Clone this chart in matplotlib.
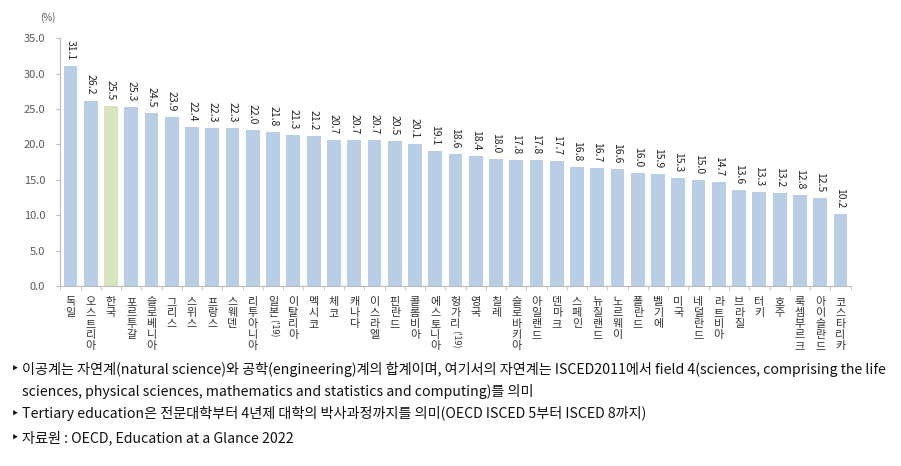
import numpy as np
import matplotlib
matplotlib.use('Agg')
import matplotlib.pyplot as plt

plt.rcParams['font.family'] = ['Noto Sans CJK KR', 'DejaVu Sans']

countries = ['독일', '오스트리아', '한국', '포르투갈', '슬로베니아', '그리스', '스위스', '프랑스',
             '스웨덴', '리투아니아', "일본('19)", '이탈리아', '멕시코', '체코', '캐나다', '이스라엘',
             '핀란드', '콜롬비아', '에스토니아', "헝가리('19)", '영국', '칠레', '슬로바키아', '아일랜드',
             '덴마크', '스페인', '뉴질랜드', '노르웨이', '폴란드', '벨기에', '미국', '네덜란드',
             '라트비아', '브라질', '터키', '호주', '룩셈부르크', '아이슬란드', '코스타리카']
values = [31.1, 26.2, 25.5, 25.3, 24.5, 23.9, 22.4, 22.3, 22.3, 22.0, 21.8, 21.3, 21.2,
          20.7, 20.7, 20.7, 20.5, 20.1, 19.1, 18.6, 18.4, 18.0, 17.8, 17.8, 17.7, 16.8,
          16.7, 16.6, 16.0, 15.9, 15.3, 15.0, 14.7, 13.6, 13.3, 13.2, 12.8, 12.5, 10.2]
yticks = [0, 5, 10, 15, 20, 25, 30, 35]
notes = [
    '이공계는 자연계(natural science)와 공학(engineering)계의 합계이며, 여기서의 자연계는 ISCED2011에서 field 4(sciences, comprising the life',
    'sciences, physical sciences, mathematics and statistics and computing)를 의미',
    'Tertiary education은 전문대학부터 4년제 대학의 박사과정까지를 의미(OECD ISCED 5부터 ISCED 8까지)',
    '자료원 : OECD, Education at a Glance 2022',
]

blue = '#b9cde5'
green = '#d7e4bd'
gray = '#595959'

fig = plt.figure(figsize=(9.01, 4.66), dpi=100)
ax = fig.add_axes([0.067, 0.386, 0.877, 0.532])

x = np.arange(len(countries))
colors = [green if c == '한국' else blue for c in countries]
ax.bar(x, values, width=0.68, color=colors)

for xi, v in zip(x, values):
    ax.text(xi, v + 0.8, f'{v:.1f}', rotation=270, ha='center', va='bottom',
            fontsize=7.5, color='#222222')

ax.set_xlim(-0.5, len(countries) - 0.5)
ax.set_ylim(0, 35)
ax.set_yticks(yticks)
ax.set_yticklabels([f'{t:.1f}' for t in yticks], fontsize=8, color=gray)
ax.tick_params(axis='y', length=3, color='#bbbbbb', pad=8)

ax.set_xticks(x)
ax.set_xticklabels([])
ax.tick_params(axis='x', which='major', length=0)
ax.set_xticks(np.arange(-0.5, len(countries)), minor=True)
ax.tick_params(axis='x', which='minor', length=3, color='#bbbbbb')

# stacked Korean labels, one character per row (11 px step)
step = 11 * 0.72
for xi, name in zip(x, countries):
    base = name.split('(')[0]
    for j, ch in enumerate(base):
        ax.annotate(ch, (xi, 0), xytext=(0, -16 * 0.72 - j * step), textcoords='offset points',
                    ha='center', va='center', fontsize=8, color='#333333',
                    annotation_clip=False)
    if '(' in name:
        ax.annotate(name[len(base):], (xi, 0),
                    xytext=(0, -16 * 0.72 - (len(base) - 0.5) * step), textcoords='offset points',
                    rotation=270, ha='center', va='top', fontsize=6.5, color='#333333',
                    annotation_clip=False)

for s in ['top', 'right']:
    ax.spines[s].set_visible(False)
ax.spines['left'].set_color('#bbbbbb')
ax.spines['bottom'].set_color('#bbbbbb')

fig.text(0.044, 0.955, '(%)', fontsize=7, color=gray)

ys = [0.198, 0.150, 0.102, 0.051]
for i, (t, yy) in enumerate(zip(notes, ys)):
    if i == 1:
        fig.text(0.0245, yy, t, fontsize=10.2, color='#111111')
    else:
        fig.text(0.012, yy, '‣', fontsize=10.2, color='#111111')
        fig.text(0.0245, yy, t, fontsize=10.2, color='#111111')

fig.savefig('out.png', dpi=100)
